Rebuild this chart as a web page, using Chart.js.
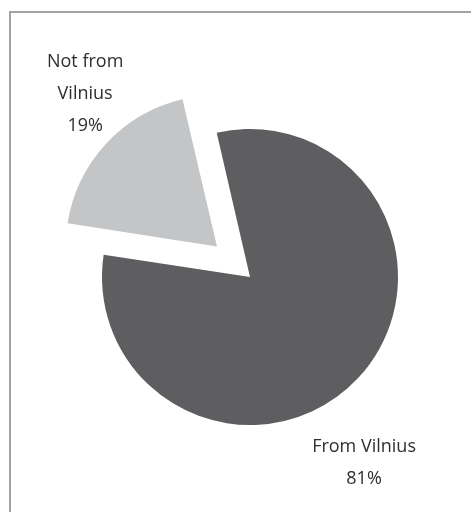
<!DOCTYPE html>
<html>
<head>
<meta charset="utf-8">
<script src="https://cdn.jsdelivr.net/npm/chart.js@4/dist/chart.umd.min.js"></script>
<style>
  html, body { margin: 0; padding: 0; background: #fff; overflow: hidden; }
  #pie { display: block; }
</style>
</head>
<body>
<canvas id="pie" width="471" height="512"></canvas>
<script>
// Chart data
const categories = ['From Vilnius', 'Not from Vilnius'];
const shares = [81, 19];
const labelLines = [['From Vilnius', '81%'], ['Not from', 'Vilnius', '19%']];
const sliceColors = ['#5e5e60', '#c4c5c7'];

// Labels are placed around the pie centre (angle clockwise from top, distance in radii)
const labelPlacement = [
  { angle: 148.5, dist: 1.475 },
  { angle: -42, dist: 1.665 }
];

// plot frame: only top and left edges are visible
const frameEdges = {
  id: 'frameEdges',
  beforeDraw(chart) {
    const ctx = chart.ctx;
    ctx.save();
    ctx.strokeStyle = '#a3a3a3';
    ctx.lineWidth = 2;
    ctx.beginPath();
    ctx.moveTo(10, chart.height);
    ctx.lineTo(10, 12);
    ctx.lineTo(chart.width, 12);
    ctx.stroke();
    ctx.restore();
  }
};

const pieLabels = {
  id: 'pieLabels',
  afterDatasetsDraw(chart) {
    const ctx = chart.ctx;
    const arcs = chart.getDatasetMeta(0).data;
    ctx.save();
    ctx.font = '18px "Open Sans"';
    ctx.fillStyle = '#2e2e2e';
    ctx.textAlign = 'center';
    ctx.textBaseline = 'middle';
    const lineH = 32;
    arcs.forEach((arc, i) => {
      const p = labelPlacement[i];
      const a = (p.angle - 90) * Math.PI / 180;
      const cx = arc.x + Math.cos(a) * arc.outerRadius * p.dist;
      const cy = arc.y + Math.sin(a) * arc.outerRadius * p.dist;
      const lines = labelLines[i];
      const y0 = cy - (lines.length - 1) * lineH / 2;
      lines.forEach((t, k) => ctx.fillText(t, cx, y0 + k * lineH));
    });
    ctx.restore();
  }
};

new Chart(document.getElementById('pie').getContext('2d'), {
  type: 'pie',
  data: {
    labels: categories,
    datasets: [{
      data: shares,
      backgroundColor: sliceColors,
      borderWidth: 0,
      offset: [0, 180]
    }]
  },
  options: {
    responsive: false,
    animation: false,
    rotation: -13,
    radius: 148,
    layout: { padding: { left: 29, top: 42, right: 0, bottom: 0 } },
    plugins: {
      legend: { display: false },
      tooltip: { enabled: false }
    }
  },
  plugins: [frameEdges, pieLabels]
});
</script>
</body>
</html>
